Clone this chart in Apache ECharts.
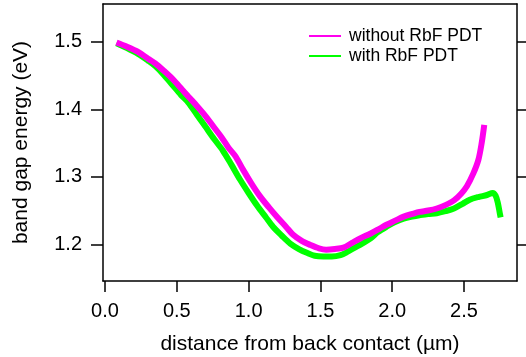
<!DOCTYPE html>
<html><head><meta charset="utf-8">
<script src="https://cdn.jsdelivr.net/npm/echarts@6/dist/echarts.min.js"></script>
<style>html,body{margin:0;padding:0;background:#fff}#c{width:526px;height:357px}</style>
</head><body><div id="c"></div>
<script>
var xTicks = [0, 0.5, 1.0, 1.5, 2.0, 2.5];
var yTicks = [1.2, 1.3, 1.4, 1.5];
var seriesNames = ['without RbF PDT', 'with RbF PDT'];

var withoutX = [0.08,0.15,0.23,0.30,0.35,0.41,0.47,0.53,0.58,0.64,0.70,0.76,0.81,0.86,0.91,0.96,1.02,1.08,1.14,1.20,1.26,1.31,1.37,1.43,1.49,1.54,1.60,1.66,1.72,1.78,1.85,1.91,1.96,2.02,2.08,2.14,2.19,2.25,2.31,2.37,2.43,2.48,2.52,2.565,2.60,2.623,2.641];
var withoutY = [1.499,1.493,1.485,1.475,1.468,1.457,1.445,1.431,1.419,1.405,1.390,1.373,1.359,1.343,1.330,1.311,1.290,1.271,1.255,1.240,1.226,1.214,1.205,1.199,1.194,1.192,1.193,1.195,1.202,1.209,1.216,1.223,1.229,1.235,1.241,1.245,1.248,1.250,1.253,1.258,1.265,1.275,1.286,1.305,1.325,1.350,1.377];

var withX = [0.08,0.15,0.23,0.30,0.35,0.41,0.47,0.53,0.58,0.64,0.70,0.76,0.82,0.88,0.94,1.00,1.06,1.12,1.17,1.23,1.29,1.35,1.41,1.46,1.52,1.58,1.64,1.69,1.73,1.79,1.85,1.90,1.96,2.02,2.08,2.14,2.19,2.25,2.31,2.37,2.43,2.49,2.54,2.60,2.66,2.70,2.72,2.735,2.75,2.755];
var withY = [1.498,1.491,1.482,1.472,1.464,1.451,1.436,1.421,1.410,1.392,1.374,1.356,1.339,1.318,1.296,1.276,1.257,1.240,1.226,1.213,1.201,1.193,1.187,1.183,1.182,1.182,1.184,1.189,1.194,1.201,1.209,1.218,1.226,1.233,1.238,1.241,1.243,1.245,1.246,1.249,1.253,1.260,1.266,1.270,1.273,1.276,1.272,1.262,1.245,1.240];

function pairs(xs, ys){ return xs.map(function(x,i){ return [x, ys[i]]; }); }

var font = 'Liberation Sans, Arial, sans-serif';
var axisLineStyle = {color:'#000', width:1.5};
var chart = echarts.init(document.getElementById('c'), null, {renderer:'canvas'});
chart.setOption({
  animation:false,
  grid:{left:103, right:9, top:4, bottom:76, containLabel:false, outerBoundsMode:'none'},
  legend:{
    data:[seriesNames[0], seriesNames[1]],
    orient:'vertical', left:304, top:21, itemGap:0,
    icon:'rect', itemWidth:32, itemHeight:2,
    textStyle:{fontFamily:font, fontSize:17.5, color:'#000', lineHeight:20, padding:[0,0,0,3]}
  },
  xAxis:[{
    type:'value', min:-0.014, max:2.869, position:'bottom',
    name:'distance from back contact (µm)', nameLocation:'middle', nameGap:53,
    nameTextStyle:{fontFamily:font, fontSize:21, color:'#000'},
    axisLine:{show:true, onZero:false, lineStyle:axisLineStyle},
    axisTick:{show:true, length:11, lineStyle:axisLineStyle, customValues:xTicks},
    axisLabel:{fontFamily:font, fontSize:20, color:'#000', margin:20, customValues:xTicks,
      formatter:function(v){return v.toFixed(1);}},
    splitLine:{show:false}
  },{
    type:'value', min:-0.014, max:2.869, position:'top',
    axisLine:{show:true, onZero:false, lineStyle:axisLineStyle},
    axisTick:{show:false}, axisLabel:{show:false}, splitLine:{show:false}
  }],
  yAxis:[{
    type:'value', min:1.1456, max:1.556, position:'left',
    name:'band gap energy (eV)', nameLocation:'middle', nameGap:71,
    nameTextStyle:{fontFamily:font, fontSize:21, color:'#000'},
    axisLine:{show:true, onZero:false, lineStyle:axisLineStyle},
    axisTick:{show:true, length:12, lineStyle:axisLineStyle, customValues:yTicks},
    axisLabel:{fontFamily:font, fontSize:20, color:'#000', margin:21, customValues:yTicks,
      formatter:function(v){return v.toFixed(1);}},
    splitLine:{show:false}
  },{
    type:'value', min:1.1456, max:1.556, position:'right',
    axisLine:{show:true, onZero:false, lineStyle:axisLineStyle},
    axisTick:{show:true, length:10, lineStyle:axisLineStyle, customValues:yTicks},
    axisLabel:{show:false}, splitLine:{show:false}
  }],
  series:[{
    name:seriesNames[1], type:'line', showSymbol:false, smooth:0.3,
    data:pairs(withX, withY), color:'#00ff00',
    lineStyle:{width:6, color:'#00ff00'}
  },{
    name:seriesNames[0], type:'line', showSymbol:false, smooth:0.3,
    data:pairs(withoutX, withoutY), color:'#ff00ee',
    lineStyle:{width:6, color:'#ff00ee'}
  }]
});
</script></body></html>
